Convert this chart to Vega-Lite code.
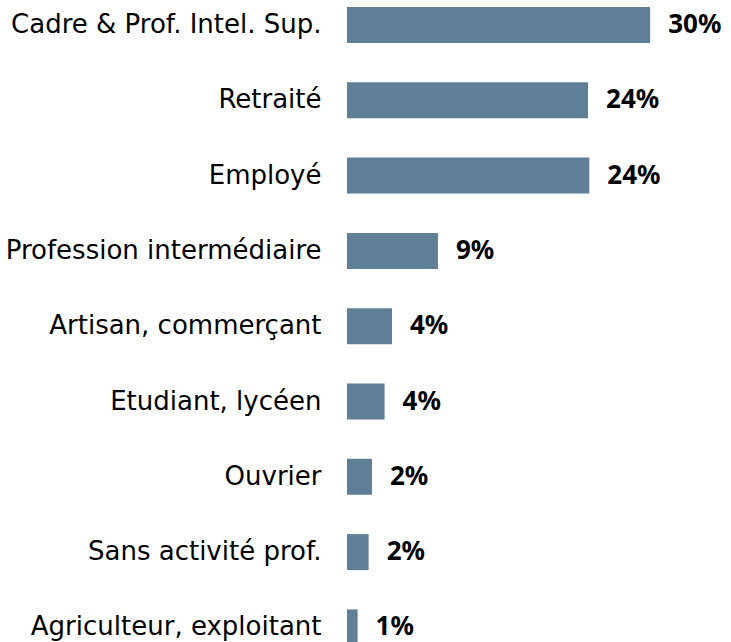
{
  "$schema": "https://vega.github.io/schema/vega-lite/v6.json",
  "autosize": "none",
  "width": 384,
  "height": 642,
  "padding": {"left": 347, "top": 0, "right": 0, "bottom": 0},
  "background": "white",
  "config": {"view": {"stroke": null}, "font": "DejaVu Sans"},
  "data": {"values": [
    {"categorie": "Cadre & Prof. Intel. Sup.", "part": 0.300},
    {"categorie": "Retraité", "part": 0.2385},
    {"categorie": "Employé", "part": 0.2398},
    {"categorie": "Profession intermédiaire", "part": 0.0900},
    {"categorie": "Artisan, commerçant", "part": 0.0445},
    {"categorie": "Etudiant, lycéen", "part": 0.0372},
    {"categorie": "Ouvrier", "part": 0.0247},
    {"categorie": "Sans activité prof.", "part": 0.0214},
    {"categorie": "Agriculteur, exploitant", "part": 0.0105}
  ]},
  "encoding": {
    "y": {
      "field": "categorie", "type": "nominal", "sort": null,
      "scale": {"range": [0, 652.4], "paddingInner": 0.522, "paddingOuter": 0.093},
      "axis": {
        "title": null, "domain": false, "ticks": false, "labelPadding": 26,
        "labelFontSize": 26, "labelColor": "#000000", "labelLimit": 400,
        "labelFont": "DejaVu Sans"
      }
    },
    "x": {
      "field": "part", "type": "quantitative",
      "scale": {"domain": [0, 0.38], "nice": false},
      "axis": null
    }
  },
  "layer": [
    {"mark": {"type": "bar", "color": "#5E7F96"}},
    {
      "mark": {"type": "text", "align": "left", "baseline": "middle", "dx": 18, "dy": 0, "fontSize": 26, "fontWeight": "bold", "color": "#000000", "font": "Noto Sans"},
      "encoding": {"text": {"field": "part", "type": "quantitative", "format": ".0%"}}
    }
  ]
}
